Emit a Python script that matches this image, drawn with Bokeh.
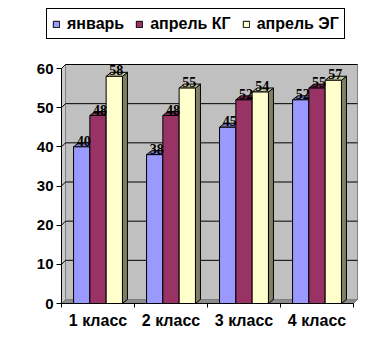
from bokeh.plotting import figure
from bokeh.models import (Range1d, LinearAxis, FixedTicker, Legend, LegendItem,
                          ColumnDataSource)
from bokeh.embed import file_html
from bokeh.resources import INLINE

# ---- data ----
categories = ["1 класс", "2 класс", "3 класс", "4 класс"]
series_names = ["январь", "апрель КГ", "апрель ЭГ"]
jan = [40, 38, 45, 52]
apr_kg = [48, 48, 52, 55]
apr_eg = [58, 55, 54, 57]
y_ticks = [0, 10, 20, 30, 40, 50, 60]

series = [jan, apr_kg, apr_eg]
front_colors = ["#9999FF", "#993366", "#FFFFCC"]
top_colors = ["#7A7ACC", "#7A2952", "#CCCCA3"]
side_colors = ["#4D4D80", "#4D1A33", "#808066"]

FONT = "Liberation Sans"

# ---- geometry (pixel scales) ----
PX_X = 73.0        # px per category
PX_Y = 235.0 / 60  # px per value unit
W, H = 384, 352
AX_LEFT = 61       # px where value axis sits
AX_BOTTOM = 303    # px where category axis sits
x_start = -AX_LEFT / PX_X
x_end = (W - AX_LEFT) / PX_X
y_start = -(H - AX_BOTTOM) / PX_Y
y_end = AX_BOTTOM / PX_Y

wx, wy = 4 / PX_X, 4 / PX_Y      # wall depth offset
bx, by = 5 / PX_X, 4 / PX_Y      # bar depth offset
bw = 16.3 / PX_X                 # bar width
ymax = y_ticks[-1]
ncat = len(categories)

p = figure(width=W, height=H, output_backend="svg", toolbar_location=None,
           x_range=Range1d(x_start, x_end), y_range=Range1d(y_start, y_end),
           x_axis_location=None, y_axis_location=None,
           min_border_left=0, min_border_right=0,
           min_border_top=0, min_border_bottom=0)
p.outline_line_color = None
p.xgrid.visible = False
p.ygrid.visible = False
p.background_fill_color = "white"
p.border_fill_color = "white"

# ---- walls ----
p.patch([0, 0, wx, wx], [0, ymax, ymax + wy, wy],
        fill_color="#CBCBCB", line_color="#808080", line_width=1)
p.quad(left=[wx], right=[ncat + wx], bottom=[wy], top=[ymax + wy],
       fill_color="#C0C0C0", line_color="#808080", line_width=1)
p.patch([0, ncat, ncat + wx, wx], [0, 0, wy, wy],
        fill_color="#8C8C8C", line_color="#808080", line_width=1)
for v in y_ticks[1:]:
    p.line([0, wx, ncat + wx], [v, v + wy, v + wy], line_color="black", line_width=1)

# ---- bars ----
offsets = [-bw, 0, bw]
front_renderers = []
label_sources = []
for s, vals in enumerate(series):
    x0 = [i + 0.5 + offsets[s] - bw / 2 for i in range(ncat)]
    x1 = [a + bw for a in x0]
    side_xs = [[b, b + bx, b + bx, b] for b in x1]
    side_ys = [[0, by, v + by, v] for v in vals]
    top_xs = [[a, a + bx, b + bx, b] for a, b in zip(x0, x1)]
    top_ys = [[v, v + by, v + by, v] for v in vals]
    p.patches(side_xs, side_ys, fill_color=side_colors[s], line_color="black", line_width=1)
    p.patches(top_xs, top_ys, fill_color=top_colors[s], line_color="black", line_width=1)
    src = ColumnDataSource(dict(x=[i + 0.5 + offsets[s] for i in range(ncat)], top=vals,
                                lab=[str(v) for v in vals]))
    r = p.vbar(x="x", top="top", bottom=0, width=bw, source=src,
               fill_color=front_colors[s], line_color="black", line_width=1)
    front_renderers.append(r)
    label_sources.append(src)

for src in label_sources:
    p.text(x="x", y="top", text="lab", source=src, text_align="center",
           text_baseline="bottom", x_offset=2, y_offset=-1,
           text_font=FONT, text_font_style="bold", text_font_size="14px",
           text_color="#000000")

# ---- axes ----
yaxis = LinearAxis(ticker=FixedTicker(ticks=y_ticks), bounds=(0, ymax), fixed_location=0)
yaxis.major_tick_out = 5
yaxis.major_tick_in = 0
yaxis.minor_tick_out = 0
yaxis.minor_tick_in = 0
yaxis.axis_line_color = "black"
yaxis.major_tick_line_color = "black"
yaxis.major_label_text_font = FONT
yaxis.major_label_text_font_style = "bold"
yaxis.major_label_text_font_size = "15px"
yaxis.major_label_text_color = "black"
yaxis.major_label_standoff = 3
p.add_layout(yaxis, "left")

xaxis = LinearAxis(ticker=FixedTicker(ticks=[i + 0.5 for i in range(ncat)],
                                      minor_ticks=list(range(ncat + 1))),
                   bounds=(0, ncat), fixed_location=0)
xaxis.major_label_overrides = {i + 0.5: c for i, c in enumerate(categories)}
xaxis.major_tick_out = 0
xaxis.major_tick_in = 0
xaxis.minor_tick_out = 4
xaxis.minor_tick_in = 0
xaxis.axis_line_color = "black"
xaxis.minor_tick_line_color = "black"
xaxis.major_label_text_font = FONT
xaxis.major_label_text_font_style = "bold"
xaxis.major_label_text_font_size = "16px"
xaxis.major_label_text_color = "black"
xaxis.major_label_standoff = 4
p.add_layout(xaxis, "below")

# ---- legend ----
legend = Legend(items=[LegendItem(label=n, renderers=[r]) for n, r in zip(series_names, front_renderers)],
                orientation="horizontal", location=(46, H - 39),
                glyph_width=8, glyph_height=8, label_standoff=7, spacing=11,
                padding=5, margin=0, label_height=19,
                border_line_color="black", border_line_width=1, border_line_alpha=1,
                background_fill_color="white", background_fill_alpha=1,
                label_text_font=FONT, label_text_font_style="bold",
                label_text_font_size="16px", label_text_color="black")
p.add_layout(legend, "center")

open("out.html", "w").write(file_html(p, INLINE))
